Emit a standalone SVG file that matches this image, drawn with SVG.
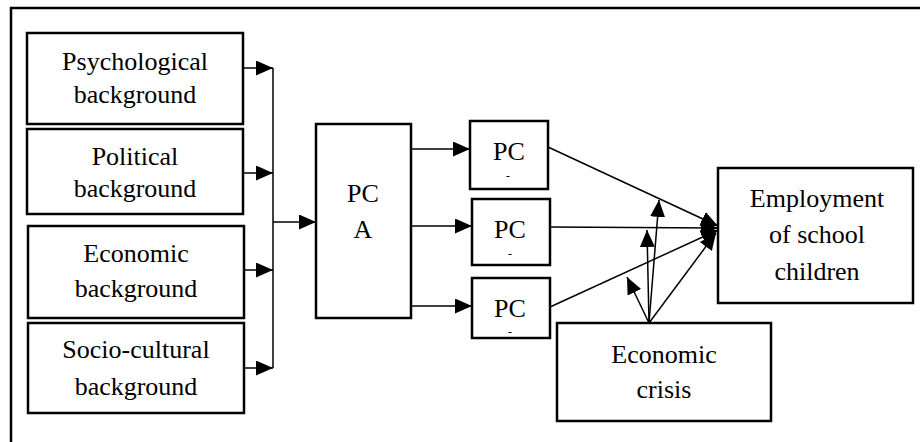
<svg xmlns="http://www.w3.org/2000/svg" width="920" height="442" viewBox="0 0 920 442">
<style>
.box{fill:#fff;stroke:#000;stroke-width:2.5}
.frame{fill:none;stroke:#000;stroke-width:2.5}
.t{font-family:"Liberation Serif","Times New Roman",serif;font-size:26px;fill:#000;text-anchor:middle}
.s{font-family:"Liberation Serif","Times New Roman",serif;font-size:12px;fill:#000;text-anchor:middle}
.c{fill:none;stroke:#000;stroke-width:1.5}
</style>
<defs>
<marker id="ah" markerUnits="userSpaceOnUse" markerWidth="18" markerHeight="16" refX="17" refY="7.5" orient="auto">
<path d="M0,0 L17,7.5 L0,15 Z" fill="#000"/>
</marker>
</defs>
<path class="frame" d="M11,442 V8 H920"/>
<g id="psychological">
<rect class="box" x="27" y="33" width="216" height="91"/>
<text class="t" x="135" y="70">Psychological</text>
<text class="t" x="135" y="103">background</text>
</g>
<g id="political">
<rect class="box" x="27" y="129" width="216" height="85"/>
<text class="t" x="135" y="165">Political</text>
<text class="t" x="135" y="197">background</text>
</g>
<g id="economic">
<rect class="box" x="28" y="226" width="216" height="92"/>
<text class="t" x="136" y="262">Economic</text>
<text class="t" x="136" y="297">background</text>
</g>
<g id="sociocultural">
<rect class="box" x="28" y="323" width="216" height="90"/>
<text class="t" x="136" y="358">Socio-cultural</text>
<text class="t" x="136" y="395">background</text>
</g>
<g id="pca">
<rect class="box" x="316" y="124" width="95" height="194"/>
<text class="t" x="363" y="202">PC</text>
<text class="t" x="363" y="238">A</text>
</g>
<g id="pc1">
<rect class="box" x="470" y="121" width="78" height="68"/>
<text class="t" x="509" y="160">PC</text>
<text class="s" x="508" y="180">-</text>
</g>
<g id="pc2">
<rect class="box" x="472" y="199" width="78" height="66"/>
<text class="t" x="510" y="238">PC</text>
<text class="s" x="510" y="258">-</text>
</g>
<g id="pc3">
<rect class="box" x="472" y="278" width="78" height="60"/>
<text class="t" x="510" y="317">PC</text>
<text class="s" x="510" y="336">-</text>
</g>
<g id="employment">
<rect class="box" x="718" y="168" width="195" height="135"/>
<text class="t" x="817" y="207">Employment</text>
<text class="t" x="817" y="243">of school</text>
<text class="t" x="817" y="280">children</text>
</g>
<g id="crisis">
<rect class="box" x="557" y="323" width="214" height="98"/>
<text class="t" x="664" y="363">Economic</text>
<text class="t" x="664" y="398">crisis</text>
</g>
<g id="connectors">
<path class="c" d="M243,68 H273" marker-end="url(#ah)"/>
<path class="c" d="M243,173 H273" marker-end="url(#ah)"/>
<path class="c" d="M244,270 H273" marker-end="url(#ah)"/>
<path class="c" d="M244,368 H273" marker-end="url(#ah)"/>
<path class="c" d="M273,68 V368"/>
<path class="c" d="M273,222 H316" marker-end="url(#ah)"/>
<path class="c" d="M411,149 H470" marker-end="url(#ah)"/>
<path class="c" d="M411,226 H472" marker-end="url(#ah)"/>
<path class="c" d="M411,306 H472" marker-end="url(#ah)"/>
<path class="c" d="M548,147 L718,226" marker-end="url(#ah)"/>
<path class="c" d="M550,227 L718,228" marker-end="url(#ah)"/>
<path class="c" d="M550,307 L718,230" marker-end="url(#ah)"/>
<path class="c" d="M649,323 L659,200" marker-end="url(#ah)"/>
<path class="c" d="M649,323 L647,230" marker-end="url(#ah)"/>
<path class="c" d="M649,323 L627,277" marker-end="url(#ah)"/>
<path class="c" d="M649,323 L716,233" marker-end="url(#ah)"/>
</g>
</svg>
